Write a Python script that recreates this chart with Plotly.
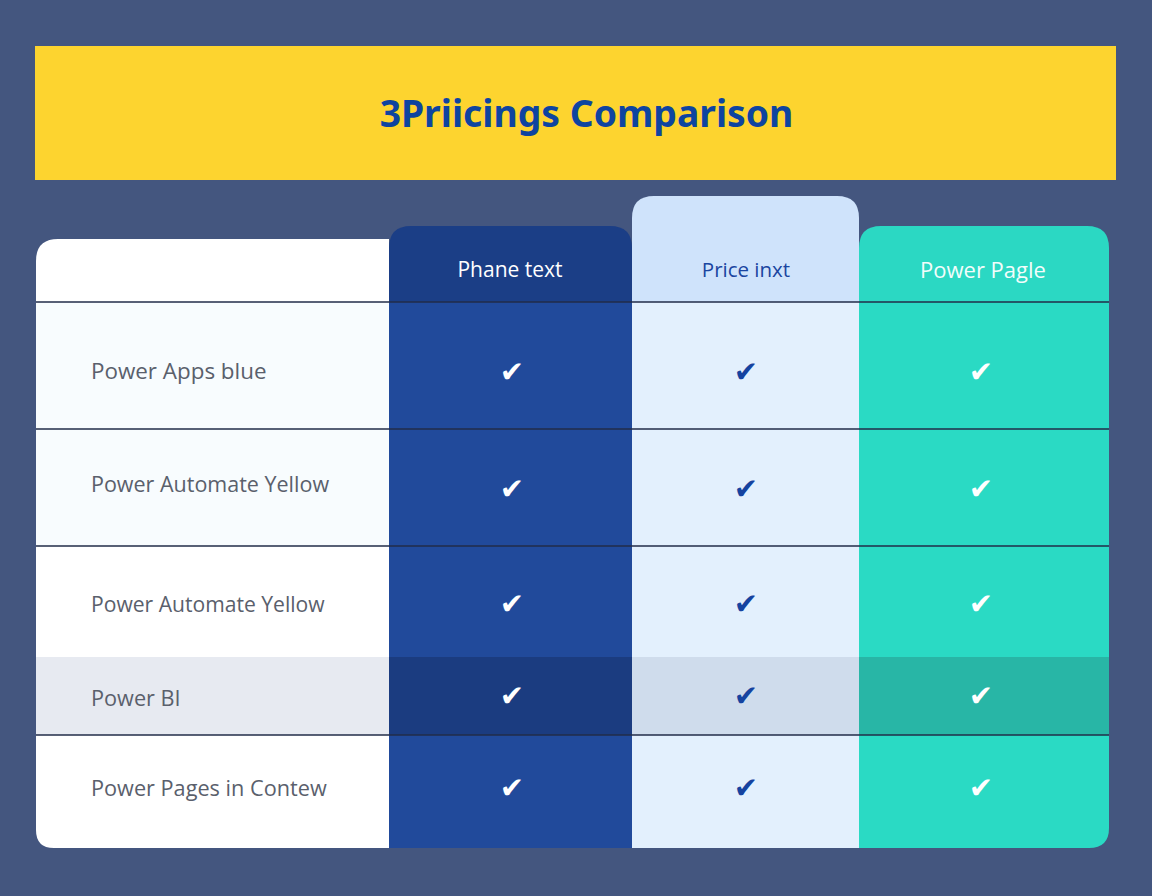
#!/usr/bin/env python3
import plotly.graph_objects as go

# contenu du tableau
titre = "3Priicings Comparison"
colonnes = ["Phane text", "Price inxt", "Power Pagle"]
lignes = ["Power Apps blue", "Power Automate Yellow", "Power Automate Yellow", "Power BI", "Power Pages in Contew"]
# une coche par ligne et par colonne
coches = [
    [1, 1, 1],
    [1, 1, 1],
    [1, 1, 1],
    [1, 1, 1],
    [1, 1, 1],
]

# geometrie, en pixels de l'image
bords_x = [36, 389, 632, 859, 1109]
hauts_entete = [239, 226, 196, 226]
bas_entete = 302
bords_y = [302, 429, 546, 657, 735, 848]
y_lignes = [373, 487, 607, 701, 791]
y_coches = [375, 492, 607, 699, 791]
x_coches = [512, 746, 981]
x_entetes = [510, 746, 983]
tailles_lignes = [22.4, 21.5, 21.1, 21.7, 21.7]
tailles_entetes = [21, 20.5, 22]

# couleurs par colonne: entete, normal, ligne foncee
fond = "#44567f"
jaune = "#fdd42f"
bleu_titre = "#0e44a0"
c_entete = ["#ffffff", "#1b3e86", "#cfe3fb", "#2bd8c3"]
c_corps = [
    ["#f8fcfe", "#214a9b", "#e3f0fd", "#2adac4"],
    ["#f8fcfe", "#214a9b", "#e3f0fd", "#2adac4"],
    ["#ffffff", "#214a9b", "#e3f0fd", "#2adac4"],
    ["#e7eaf1", "#1b3c80", "#cfdcec", "#28b6a6"],
    ["#ffffff", "#214a9b", "#e3f0fd", "#2adac4"],
]
c_texte_entete = ["#ffffff", "#1a45a0", "#f2fdfb"]
c_coche = ["#ffffff", "#1543a0", "#ffffff"]
glyphes = ["✔", "✔", "✔"]
tailles_coches = [29, 29, 29]


def rect_arrondi(x0, x1, y0, y1, hg=0, hd=0, bd=0, bg=0):
    # y vers le bas, rayon par coin
    p = f"M {x0+hg},{y0} L {x1-hd},{y0} "
    if hd:
        p += f"Q {x1},{y0} {x1},{y0+hd} "
    p += f"L {x1},{y1-bd} "
    if bd:
        p += f"Q {x1},{y1} {x1-bd},{y1} "
    p += f"L {x0+bg},{y1} "
    if bg:
        p += f"Q {x0},{y1} {x0},{y1-bg} "
    p += f"L {x0},{y0+hg} "
    if hg:
        p += f"Q {x0},{y0} {x0+hg},{y0} "
    return p + "Z"


def forme(path, couleur):
    return dict(type="path", path=path, xref="x", yref="y", fillcolor=couleur, line_width=0, layer="below")


formes = []
# bandeau titre
formes.append(dict(type="rect", xref="x", yref="y", x0=35, x1=1116, y0=46, y1=180, fillcolor=jaune, line_width=0, layer="below"))

# entetes
for c in range(4):
    r = 22
    formes.append(forme(rect_arrondi(bords_x[c], bords_x[c+1], hauts_entete[c], bas_entete,
                                     hg=r, hd=0 if c == 0 else r), c_entete[c]))
# cellules
for l in range(len(lignes)):
    for c in range(4):
        bg = 18 if (l == len(lignes)-1 and c == 0) else 0
        bd = 20 if (l == len(lignes)-1 and c == 3) else 0
        formes.append(forme(rect_arrondi(bords_x[c], bords_x[c+1], bords_y[l], bords_y[l+1], bd=bd, bg=bg), c_corps[l][c]))

fig = go.Figure()

# filets horizontaux
x_f, y_f = [], []
for y in [302, 429, 546, 735]:
    x_f += [bords_x[0], bords_x[-1], None]
    y_f += [y, y, None]
fig.add_trace(go.Scatter(x=x_f, y=y_f, mode="lines", line=dict(color="#222c48", width=1.5), hoverinfo="skip"))

# titre
fig.add_trace(go.Scatter(x=[586.5], y=[118], mode="text", text=[f"<b>{titre}</b>"], textposition="middle center",
                         textfont=dict(family="Noto Sans", size=37.3, color=bleu_titre), hoverinfo="skip"))
# entetes de colonnes
fig.add_trace(go.Scatter(x=x_entetes, y=[272]*3, mode="text", text=colonnes, textposition="middle center",
                         textfont=dict(family="Open Sans", size=tailles_entetes, color=c_texte_entete), hoverinfo="skip"))
# noms des lignes
fig.add_trace(go.Scatter(x=[91]*5, y=y_lignes, mode="text", text=lignes, textposition="middle right",
                         textfont=dict(family="Open Sans", size=tailles_lignes, color="#5a606c"), hoverinfo="skip"))
# coches
for c in range(3):
    ys = [y_coches[l] for l in range(5) if coches[l][c]]
    fig.add_trace(go.Scatter(x=[x_coches[c]]*len(ys), y=ys, mode="text", text=[glyphes[c]]*len(ys), textposition="middle center",
                             textfont=dict(family="DejaVu Sans", size=tailles_coches[c], color=c_coche[c]), hoverinfo="skip"))

fig.update_layout(
    width=1152, height=896, margin=dict(l=0, r=0, t=0, b=0),
    paper_bgcolor=fond, plot_bgcolor=fond, showlegend=False, shapes=formes,
    xaxis=dict(range=[0, 1152], visible=False, fixedrange=True),
    yaxis=dict(range=[896, 0], visible=False, fixedrange=True),
)
fig.write_html("out.html", config=dict(displayModeBar=False),
               post_script="document.body.style.margin='0';document.body.style.overflow='hidden';")
